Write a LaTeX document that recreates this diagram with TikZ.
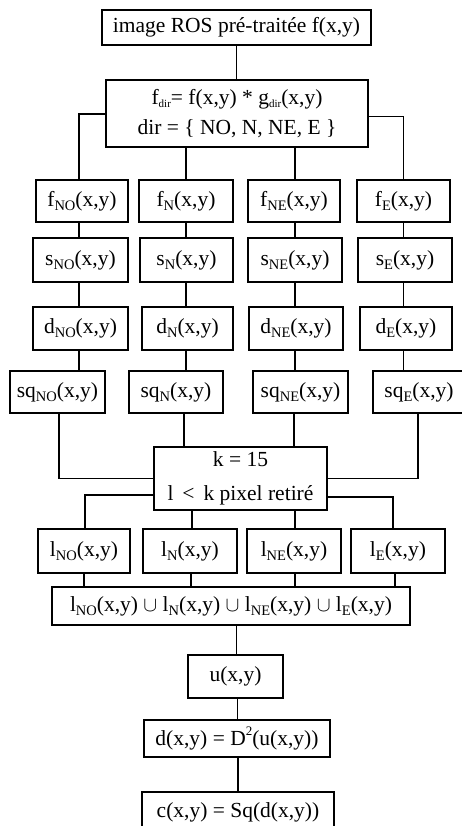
\documentclass[tikz,border=0pt]{standalone}
\usepackage{fontspec}
\setmainfont{Liberation Serif}
\newcommand{\subx}[1]{\raisebox{-0.4ex}{\fontsize{14.5}{14.5}\selectfont #1}}
\newcommand{\subd}[1]{\raisebox{-0.3ex}{\fontsize{11}{11}\selectfont #1}}
\begin{document}
\begin{tikzpicture}[x=1pt,y=-1pt,
  bx/.style={draw, line width=1.9pt, inner sep=0pt, align=center, font=\fontsize{21.5}{30}\selectfont},
  ln/.style={line width=1.9pt}]
\useasboundingbox (0,0) rectangle (462,826);
% boxes
\node[bx, minimum width=269pt, minimum height=35pt] (top) at (236.5,27.5) {image ROS pré-traitée f(x,y)};
\node[bx, minimum width=262pt, minimum height=67pt] (conv) at (237,113.5) {f\subd{dir}= f(x,y) * g\subd{dir}(x,y)\\ dir = \{ NO, N, NE, E \}};
% f row
\node[bx, minimum width=92pt, minimum height=42pt] (fNO) at (82,201) {f\subx{NO}(x,y)};
\node[bx, minimum width=94pt, minimum height=42pt] (fN) at (186,201) {f\subx{N}(x,y)};
\node[bx, minimum width=92pt, minimum height=42pt] (fNE) at (294,201) {f\subx{NE}(x,y)};
\node[bx, minimum width=93pt, minimum height=42pt] (fE) at (403.5,201) {f\subx{E}(x,y)};
% s row
\node[bx, minimum width=95pt, minimum height=44pt] (sNO) at (80.5,260) {s\subx{NO}(x,y)};
\node[bx, minimum width=93pt, minimum height=44pt] (sN) at (186.5,260) {s\subx{N}(x,y)};
\node[bx, minimum width=94pt, minimum height=44pt] (sNE) at (295,260) {s\subx{NE}(x,y)};
\node[bx, minimum width=94pt, minimum height=44pt] (sE) at (405,260) {s\subx{E}(x,y)};
% d row
\node[bx, minimum width=95pt, minimum height=43pt] (dNO) at (80.5,328.5) {d\subx{NO}(x,y)};
\node[bx, minimum width=91pt, minimum height=43pt] (dN) at (187.5,328.5) {d\subx{N}(x,y)};
\node[bx, minimum width=94pt, minimum height=43pt] (dNE) at (296,328.5) {d\subx{NE}(x,y)};
\node[bx, minimum width=92pt, minimum height=43pt] (dE) at (406,328.5) {d\subx{E}(x,y)};
% sq row
\node[bx, minimum width=95pt, minimum height=42pt] (sqNO) at (57.5,392) {sq\subx{NO}(x,y)};
\node[bx, minimum width=94pt, minimum height=42pt] (sqN) at (176,392) {sq\subx{N}(x,y)};
\node[bx, minimum width=95pt, minimum height=42pt] (sqNE) at (300.5,392) {sq\subx{NE}(x,y)};
\node[bx, minimum width=92pt, minimum height=42pt] (sqE) at (419,392) {sq\subx{E}(x,y)};
% k box
\node[bx, minimum width=173pt, minimum height=63pt, font=\fontsize{21.5}{34}\selectfont] (k) at (240.5,478.5) {k = 15\\ l \,<\, k pixel retiré};
% l row
\node[bx, minimum width=92pt, minimum height=44pt] (lNO) at (84,551) {l\subx{NO}(x,y)};
\node[bx, minimum width=94pt, minimum height=44pt] (lN) at (190,551) {l\subx{N}(x,y)};
\node[bx, minimum width=94pt, minimum height=44pt] (lNE) at (294,551) {l\subx{NE}(x,y)};
\node[bx, minimum width=94pt, minimum height=44pt] (lE) at (398,551) {l\subx{E}(x,y)};
% union
\node[bx, minimum width=358pt, minimum height=38pt] (un) at (231,606) {l\subx{NO}(x,y) $\cup$ l\subx{N}(x,y) $\cup$ l\subx{NE}(x,y) $\cup$ l\subx{E}(x,y)};
\node[bx, minimum width=95pt, minimum height=43pt] (u) at (235.5,676.5) {u(x,y)};
\node[bx, minimum width=186pt, minimum height=37pt] (dd) at (237,738.5) {d(x,y) = D\raisebox{1.1ex}{\fontsize{13}{13}\selectfont 2}(u(x,y))};
\node[bx, minimum width=192pt, minimum height=38pt, text depth=0pt] (c) at (238,811) {\raisebox{1pt}{c(x,y) = Sq(d(x,y))}};
% connectors
\draw[ln] (top.south) -- (top.south |- conv.north);
\draw[ln] ([yshift=-0.5pt]conv.west) -| ([xshift=-3pt]fNO.north);
\draw[ln] ([yshift=-3pt]conv.east) -| (fE.north);
\draw[ln] (fN.north |- conv.south) -- (fN.north);
\draw[ln] ([xshift=1pt]fNE.north |- conv.south) -- ([xshift=1pt]fNE.north);
% columns
\draw[ln] ([xshift=-3pt]fNO.south) -- ([xshift=-3pt]fNO.south |- sNO.north);
\draw[ln] ([xshift=-3pt]fNO.south |- sNO.south) -- ([xshift=-3pt]fNO.south |- dNO.north);
\draw[ln] ([xshift=-3pt]fNO.south |- dNO.south) -- ([xshift=-3pt]fNO.south |- sqNO.north);
\draw[ln] (fN.south) -- (fN.south |- sN.north);
\draw[ln] (fN.south |- sN.south) -- (fN.south |- dN.north);
\draw[ln] (fN.south |- dN.south) -- (fN.south |- sqN.north);
\draw[ln] ([xshift=1pt]fNE.south) -- ([xshift=1pt]fNE.south |- sNE.north);
\draw[ln] ([xshift=1pt]fNE.south |- sNE.south) -- ([xshift=1pt]fNE.south |- dNE.north);
\draw[ln] ([xshift=1pt]fNE.south |- dNE.south) -- ([xshift=1pt]fNE.south |- sqNE.north);
\draw[ln] (fE.south) -- (fE.south |- sE.north);
\draw[ln] (fE.south |- sE.south) -- (fE.south |- dE.north);
\draw[ln] (fE.south |- dE.south) -- (fE.south |- sqE.north);
% sq to k
\draw[ln] ([xshift=1.5pt]sqNO.south) |- (k.west);
\draw[ln] ([xshift=-2pt]fN.south |- sqN.south) -- ([xshift=-2pt]fN.south |- k.north);
\draw[ln] (fNE.south |- sqNE.south) -- (fNE.south |- k.north);
\draw[ln] ([xshift=-1pt]sqE.south) |- (k.east);
% k to l
\draw[ln] ([yshift=-16.5pt]k.west) -| ([xshift=1pt]lNO.north);
\draw[ln] ([yshift=-18.5pt]k.east) -| ([xshift=-5pt]lE.north);
\draw[ln] ([xshift=2pt]lN.north |- k.south) -- ([xshift=2pt]lN.north);
\draw[ln] ([xshift=1pt]lNE.north |- k.south) -- ([xshift=1pt]lNE.north);
% l to union
\draw[ln] (lNO.south) -- (lNO.south |- un.north);
\draw[ln] ([xshift=1pt]lN.south) -- ([xshift=1pt]lN.south |- un.north);
\draw[ln] ([xshift=1pt]lNE.south) -- ([xshift=1pt]lNE.south |- un.north);
\draw[ln] ([xshift=-3pt]lE.south) -- ([xshift=-3pt]lE.south |- un.north);
% bottom chain
\draw[ln] ([xshift=1pt]u.north |- un.south) -- ([xshift=1pt]u.north);
\draw[ln] ([xshift=2pt]u.south) -- ([xshift=2pt]u.south |- dd.north);
\draw[ln] ([xshift=1pt]dd.south) -- ([xshift=1pt]dd.south |- c.north);
\end{tikzpicture}
\end{document}
